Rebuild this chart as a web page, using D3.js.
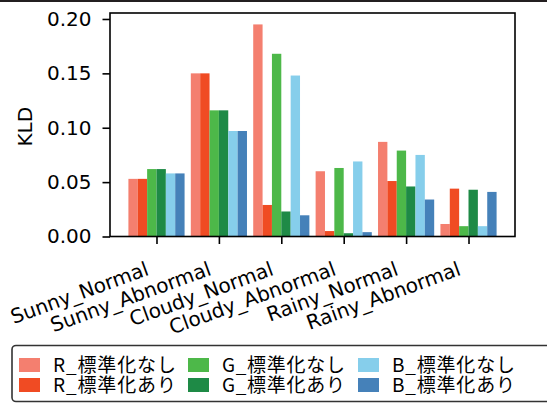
<!DOCTYPE html>
<html>
<head>
<meta charset="utf-8">
<script src="https://cdn.jsdelivr.net/npm/d3@7"></script>
<style>
  html, body { margin: 0; padding: 0; background: #fff; }
  svg { display: block; }
</style>
</head>
<body>
<svg id="chart" width="547" height="403"></svg>
<script>
// Categories along the x axis
const categories = ["Sunny_Normal", "Sunny_Abnormal", "Cloudy_Normal", "Cloudy_Abnormal", "Rainy_Normal", "Rainy_Abnormal"];

// KLD per channel, without / with standardisation
const rRaw  = [0.053, 0.150, 0.195, 0.060, 0.087, 0.0115];
const rStd  = [0.053, 0.150, 0.029, 0.005, 0.051, 0.044];
const gRaw  = [0.062, 0.116, 0.168, 0.063, 0.079, 0.0095];
const gStd  = [0.062, 0.116, 0.023, 0.003, 0.046, 0.043];
const bRaw  = [0.058, 0.097, 0.148, 0.069, 0.075, 0.0095];
const bStd  = [0.058, 0.097, 0.0195, 0.004, 0.034, 0.041];

const seriesNames = ["R_標準化なし", "R_標準化あり", "G_標準化なし", "G_標準化あり", "B_標準化なし", "B_標準化あり"];
const seriesColors = ["#f47f6f", "#f04b23", "#4db849", "#1e8a46", "#86ceeb", "#4581b9"];
const yTicks = [0.00, 0.05, 0.10, 0.15, 0.20];

const series = [rRaw, rStd, gRaw, gStd, bRaw, bStd];

const svg = d3.select("#chart");

// thin dark strip along the top edge
svg.append("rect").attr("x", 0).attr("y", 0).attr("width", 547).attr("height", 2).attr("fill", "#231f20");

const plot = { left: 110, right: 515, top: 13, bottom: 236.5 };

const barW = 0.15;
const x = d3.scaleLinear().domain([-0.745, 5.745]).range([plot.left, plot.right]);
const y = d3.scaleLinear().domain([0, 0.2055]).range([plot.bottom, plot.top]);

// bars
series.forEach((vals, si) => {
  svg.append("g")
    .selectAll("rect")
    .data(vals)
    .join("rect")
    .attr("x", (d, i) => x(i + (si - 2.5) * barW - barW / 2))
    .attr("width", x(barW) - x(0))
    .attr("y", d => y(d))
    .attr("height", d => y(0) - y(d))
    .attr("fill", seriesColors[si]);
});

// y axis
const yAxis = d3.axisLeft(y).tickValues(yTicks).tickFormat(d3.format(".2f")).tickSize(7.5).tickPadding(11);
const gy = svg.append("g").attr("transform", `translate(${plot.left},0)`).call(yAxis);
gy.select(".domain").remove();
gy.selectAll(".tick line").attr("stroke", "#000").attr("stroke-width", 1.6);
gy.selectAll(".tick text").attr("font-family", "DejaVu Sans").attr("font-size", 20).attr("fill", "#000");

// x axis
const xAxis = d3.axisBottom(x).tickValues(d3.range(categories.length)).tickFormat(i => categories[i]).tickSize(7.5);
const gx = svg.append("g").attr("transform", `translate(0,${plot.bottom})`).call(xAxis);
gx.select(".domain").remove();
gx.selectAll(".tick line").attr("stroke", "#000").attr("stroke-width", 1.6);
gx.selectAll(".tick text")
  .attr("font-family", "DejaVu Sans").attr("font-size", 20).attr("fill", "#000")
  .attr("text-anchor", "end")
  .attr("dy", null)
  .attr("y", 0)
  .attr("transform", "translate(-7,38) rotate(-20)");

// frame
svg.append("rect")
  .attr("x", plot.left).attr("y", plot.top)
  .attr("width", plot.right - plot.left).attr("height", plot.bottom - plot.top)
  .attr("fill", "none").attr("stroke", "#000").attr("stroke-width", 1.6);

// y label
svg.append("text")
  .attr("transform", `translate(32,${(plot.top + plot.bottom) / 2 + 2}) rotate(-90)`)
  .attr("text-anchor", "middle")
  .attr("font-family", "DejaVu Sans").attr("font-size", 20)
  .text("KLD");

// legend
const legend = svg.append("g");
legend.append("rect")
  .attr("x", 12).attr("y", 345.5).attr("width", 560).attr("height", 56)
  .attr("rx", 4).attr("ry", 4)
  .attr("fill", "#fff").attr("stroke", "#333").attr("stroke-width", 1.6);

const colX = [19, 188, 358];
const rowY = [358, 378];
seriesNames.forEach((name, i) => {
  const col = Math.floor(i / 2), row = i % 2;
  legend.append("rect")
    .attr("x", colX[col]).attr("y", rowY[row]).attr("width", 21).attr("height", 14)
    .attr("fill", seriesColors[i]);
  legend.append("text")
    .attr("x", colX[col] + 34).attr("y", rowY[row] + 14)
    .attr("font-family", "Noto Sans CJK JP").attr("font-size", 19)
    .attr("textLength", 123).attr("lengthAdjust", "spacing")
    .text(name);
});
</script>
</body>
</html>
